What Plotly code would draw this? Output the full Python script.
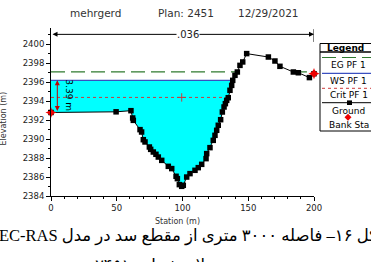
import numpy as np
import plotly.graph_objects as go

# ---------------- data ----------------
station = [0, 49.5, 60.8, 62.1, 62.6, 67.7, 68.9, 70.2, 71.5, 74.8, 75.8, 77.8, 79.8,
           81.6, 84.2, 89.2, 91.8, 95.1, 96.1, 97.6, 99.4, 100.6, 103.2, 105.7, 109.5,
           112.0, 114.6, 117.9, 118.4, 120.9, 123.4, 124.7, 126.0, 127.2, 129.0, 130.3,
           131.6, 132.6, 133.6, 134.8, 136.1, 137.4, 138.2, 139.9, 141.7, 143.7, 145.8,
           148.8, 165.3, 170.3, 174.1, 184.3, 188.1, 196.5, 200]
elevation = [2392.81, 2392.88, 2393.00, 2392.23, 2391.98, 2391.00, 2390.75, 2389.94,
             2389.70, 2389.17, 2388.92, 2388.64, 2388.40, 2388.11, 2387.76, 2387.13,
             2386.89, 2386.08, 2385.83, 2385.20, 2385.02, 2385.13, 2386.00, 2386.36,
             2386.71, 2386.99, 2387.34, 2387.94, 2388.47, 2389.10, 2389.87, 2390.40,
             2390.93, 2391.46, 2392.05, 2392.86, 2393.39, 2393.74, 2394.09, 2394.37,
             2395.15, 2395.67, 2396.20, 2396.73, 2397.08, 2397.78, 2398.14, 2399.02,
             2398.66, 2398.24, 2397.68, 2397.08, 2397.00, 2396.49, 2396.90]
bank_station = [0, 200]
bank_elev = [2392.81, 2396.90]
ws_elev = 2396.20
eg_elev = 2397.10
crit_elev = 2394.40
crit_mark_station = 99.4
depth_label = "3.39 m"
n_value = ".036"
title_parts = ["mehrgerd", "Plan: 2451", "12/29/2021"]
legend_items = ["EG PF 1", "WS PF 1", "Crit PF 1", "Ground", "Bank Sta"]
x_ticks = [0, 50, 100, 150, 200]
y_ticks = list(range(2384, 2401, 2))
caption1 = "\u202bشکل ۱۶– فاصله ۳۰۰۰ متری از مقطع سد در مدل HEC-RAS\u202c"
caption2 = "\u202bدر محدوده پلان شماره ۲۴۵۱\u202c"

st = np.array(station, float)
el = np.array(elevation, float)


def segments_below(level):
    """Station intervals where ground is below a water level."""
    segs, start = [], None
    for i in range(len(st)):
        below = el[i] < level
        if below and start is None:
            if i == 0:
                start = st[0]
            else:
                t = (level - el[i - 1]) / (el[i] - el[i - 1])
                start = st[i - 1] + t * (st[i] - st[i - 1])
        if not below and start is not None:
            t = (level - el[i - 1]) / (el[i] - el[i - 1])
            segs.append((start, st[i - 1] + t * (st[i] - st[i - 1])))
            start = None
    if start is not None:
        segs.append((start, st[-1]))
    return segs


def line_xy(level, first_only=False):
    xs, ys = [], []
    segs = segments_below(level)
    if first_only:
        segs = segs[:1]
    for a, b in segs:
        xs += [a, b, None]
        ys += [level, level, None]
    return xs, ys


# water polygon (first wetted segment)
wa, wb = segments_below(ws_elev)[0]
mask = (st >= wa) & (st < wb)
poly_x = [wa] + list(st[mask]) + [wb]
poly_y = [ws_elev] + list(el[mask]) + [ws_elev]

W, H = 371, 262
ML, MR, MT, MB = 51, 57, 28, 66
PW, PH = W - ML - MR, H - MT - MB
YMIN = 2384
YMAX = YMIN + PH / 9.48


def PX(px):
    return (px - ML) / PW


def PY(py):
    return (H - MB - py) / PH


FONT = "DejaVu Sans, Arial"
EG_C, WS_C, CR_C = "#2f7a2f", "#3a4fc0", "#cc3b3b"

fig = go.Figure()
fig.add_trace(go.Scatter(x=poly_x, y=poly_y, fill="toself", fillcolor="#00ffff",
                         mode="none", hoverinfo="skip", showlegend=False))
ex, ey = line_xy(eg_elev)
fig.add_trace(go.Scatter(x=ex, y=ey, mode="lines", showlegend=False,
                         line=dict(color=EG_C, width=1.2, dash="14px,6px")))
wx, wy = line_xy(ws_elev, True)
fig.add_trace(go.Scatter(x=wx, y=wy, mode="lines", showlegend=False,
                         line=dict(color=WS_C, width=1.4)))
cx, cy = line_xy(crit_elev, True)
fig.add_trace(go.Scatter(x=cx, y=cy, mode="lines", showlegend=False,
                         line=dict(color=CR_C, width=1, dash="3px,3px")))
fig.add_trace(go.Scatter(x=[crit_mark_station], y=[crit_elev], mode="markers",
                         showlegend=False,
                         marker=dict(symbol="cross-thin", size=6, line=dict(color=CR_C, width=1))))
fig.add_trace(go.Scatter(x=station, y=elevation, mode="lines+markers", showlegend=False,
                         cliponaxis=False,
                         line=dict(color="black", width=1),
                         marker=dict(symbol="square", size=5.5, color="black")))
fig.add_trace(go.Scatter(x=bank_station, y=bank_elev, mode="markers", showlegend=False,
                         cliponaxis=False,
                         marker=dict(symbol="star-diamond", size=8, color="#ee0000")))

ann = []
# depth arrow
ann.append(dict(x=4.8, y=ws_elev, ax=4.8, ay=bank_elev[0], xref="x", yref="y",
                axref="x", ayref="y", text="", showarrow=True, arrowhead=2,
                arrowside="end+start", arrowsize=1, arrowwidth=1, arrowcolor="#c00000"))
ann.append(dict(x=13, y=(ws_elev + bank_elev[0]) / 2 + 0.1, xref="x", yref="y",
                text=depth_label, showarrow=False, textangle=90,
                font=dict(family=FONT, size=9, color="black")))
# n-value arrow
ytop = 2401.05
ann.append(dict(x=200, y=ytop, ax=0, ay=ytop, xref="x", yref="y", axref="x", ayref="y",
                text="", showarrow=True, arrowhead=2, arrowside="end+start",
                arrowsize=1, arrowwidth=1, arrowcolor="black"))
ann.append(dict(x=104, y=ytop, xref="x", yref="y", text=n_value, showarrow=False,
                bgcolor="white", borderpad=0,
                font=dict(family=FONT, size=10, color="#222")))
# titles
for txt, cxp in zip(title_parts, [95.5, 185.5, 268.5]):
    ann.append(dict(x=PX(cxp), y=PY(13), xref="paper", yref="paper", text=txt,
                    showarrow=False, xanchor="center", yanchor="middle",
                    font=dict(family=FONT, size=10.5, color="#333")))
ann.append(dict(x=PX(177), y=PY(221), xref="paper", yref="paper", text="Station (m)",
                showarrow=False, yanchor="middle",
                font=dict(family=FONT, size=8, color="#333")))
ann.append(dict(x=PX(2.5), y=PY(119), xref="paper", yref="paper", text="Elevation (m)",
                showarrow=False, textangle=-90, xanchor="center", yanchor="middle",
                font=dict(family=FONT, size=8, color="#333")))
# captions
ann.append(dict(x=PX(189), y=PY(236), xref="paper", yref="paper", text=caption1,
                showarrow=False, xanchor="center", yanchor="middle",
                font=dict(family="Liberation Serif, DejaVu Sans", size=16.5, color="black")))
ann.append(dict(x=PX(190), y=PY(266), xref="paper", yref="paper", text=caption2,
                showarrow=False, xanchor="center", yanchor="middle",
                font=dict(family="Liberation Serif, DejaVu Sans", size=16.5, color="black")))

# legend box
shapes = []
shapes.append(dict(type="rect", xref="paper", yref="paper", x0=PX(320), x1=PX(378),
                   y0=PY(131), y1=PY(43.5), line=dict(color="black", width=1),
                   fillcolor="white", layer="above"))
shapes.append(dict(type="line", xref="paper", yref="paper", x0=PX(320), x1=PX(378),
                   y0=PY(52), y1=PY(52), line=dict(color="black", width=1.5)))
ann.append(dict(x=PX(325), y=PY(47.8), xref="paper", yref="paper", text="<b>Legend</b>",
                showarrow=False, xanchor="left", yanchor="middle",
                font=dict(family=FONT, size=9, color="black")))
sample_y = [57.5, 73.3, 88.3, 102.7]
sample_style = [dict(color=EG_C, width=1.2, dash="14px,6px"),
                dict(color=WS_C, width=1.2),
                dict(color=CR_C, width=1, dash="3px,3px"),
                dict(color="black", width=1)]
for sy, sstyle in zip(sample_y, sample_style):
    shapes.append(dict(type="line", xref="paper", yref="paper", x0=PX(322), x1=PX(377),
                       y0=PY(sy), y1=PY(sy), line=sstyle, layer="above"))
shapes.append(dict(type="rect", xref="paper", yref="paper", x0=PX(347), x1=PX(352),
                   y0=PY(105), y1=PY(100.4), fillcolor="black", line=dict(width=0),
                   layer="above"))
shapes.append(dict(type="path", xref="paper", yref="paper",
                   path=f"M {PX(348)} {PY(113.8)} L {PX(351.5)} {PY(117.3)} L {PX(348)} {PY(120.8)} L {PX(344.5)} {PY(117.3)} Z",
                   fillcolor="#ee0000", line=dict(width=0), layer="above"))
for txt, ty in zip(legend_items, [65, 80.5, 95, 110.5, 125]):
    ann.append(dict(x=PX(348.5), y=PY(ty), xref="paper", yref="paper", text=txt,
                    showarrow=False, xanchor="center", yanchor="middle",
                    font=dict(family=FONT, size=9, color="black")))
# right end tick of n-value bar
shapes.append(dict(type="line", xref="x", yref="y", x0=200, x1=200, y0=2400.25,
                   y1=2401.6, line=dict(color="black", width=1)))

fig.update_layout(
    width=W, height=H, margin=dict(l=ML, r=MR, t=MT, b=MB),
    plot_bgcolor="white", paper_bgcolor="white", showlegend=False,
    annotations=ann, shapes=shapes,
    xaxis=dict(range=[0, 200], tickvals=x_ticks, showgrid=False, zeroline=False,
               showline=True, linecolor="black", linewidth=1, ticks="outside",
               ticklen=4, tickcolor="black",
               minor=dict(dtick=10, ticks="outside", ticklen=2, tickcolor="black"),
               tickfont=dict(family=FONT, size=8.5, color="#222")),
    yaxis=dict(range=[YMIN, YMAX], tickvals=y_ticks, showgrid=False, zeroline=False,
               showline=True, linecolor="black", linewidth=1, ticks="outside",
               ticklen=4, tickcolor="black",
               minor=dict(dtick=1, ticks="outside", ticklen=2, tickcolor="black"),
               tickfont=dict(family=FONT, size=8.5, color="#222")),
)
fig.write_html("out.html", config={"displayModeBar": False},
               post_script="document.body.style.margin='0';document.body.style.overflow='hidden';")
